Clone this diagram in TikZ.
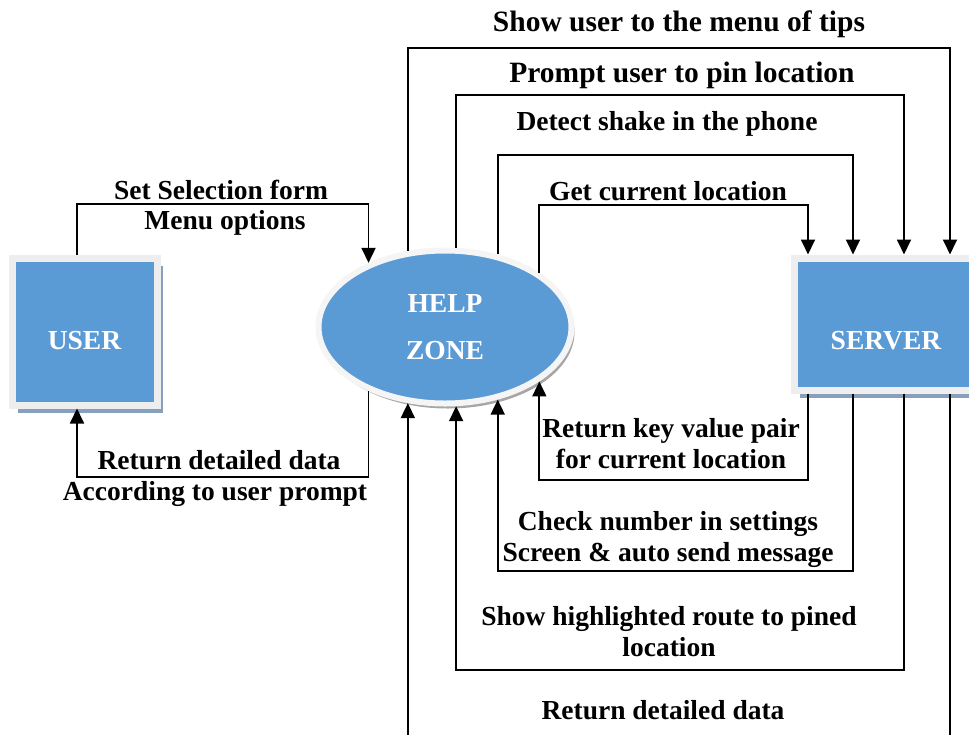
\documentclass[tikz,border=0pt]{standalone}
\usepackage{fontspec}
\setmainfont{Liberation Serif}
\usepackage{tikz}
\usetikzlibrary{arrows.meta,shapes.geometric,shadows}

\definecolor{boxblue}{RGB}{91,155,213}
\definecolor{rimgray}{RGB}{238,238,238}
\definecolor{shadeblue}{RGB}{135,160,190}

\begin{document}
\begin{tikzpicture}[x=1pt,y=-1pt,>={Triangle[length=15pt,width=14pt]},line width=1.8pt,
    every node/.style={font=\fontsize{27.5}{31}\selectfont\bfseries}]

    \tikzstyle{box}=[rectangle,fill=boxblue,draw=rimgray,line width=7pt,text=white,
      drop shadow={shadow xshift=5.5pt,shadow yshift=-8pt,fill=shadeblue,opacity=1}]
    \tikzstyle{zone}=[ellipse,fill=boxblue,draw=rimgray!60!white,line width=6pt,text=white,align=center,
      drop shadow={shadow xshift=3pt,shadow yshift=-5pt,fill=black!35,opacity=1}]
    \tikzstyle{msg}=[align=center,inner sep=0pt]
    \tikzstyle{big}=[font=\fontsize{29.5}{33}\selectfont\bfseries]

    \useasboundingbox (0,0) rectangle (969,734);
    \clip (0,0) rectangle (969,734);

    \node[box,minimum width=145pt,minimum height=147pt,text height=35pt,text depth=0pt] (user) at (84.5,331.5) {USER};
    \node[zone,minimum width=253pt,minimum height=153pt] (help) at (445,327) {HELP\\[16pt]ZONE};
    \node[box,minimum width=183pt,minimum height=132pt,text height=50pt,text depth=0pt] (server) at (886,324) {SERVER};

    % user <-> help zone
    \draw[->] (77,0 |- user.north) |- (help.140.8 |- 0,204) -- (help.140.8);
    \draw[->] (help.-140.8) |- (77,477) -- (77,0 |- user.south);
    \node[msg] (sel) at (221,190) {Set Selection form};
    \node[msg] (menu) at (225,223) {Menu options};
    \node[msg] (ret) at (219,460) {Return detailed data};
    \node[msg] (acc) at (215,494) {According to user prompt};

    % help zone -> server
    \foreach \a/\x/\y in {116.2/950/48,82/904/95,54.7/853/155,30.8/808/205}
      \draw[->] (help.\a) |- (\x,\y) -- (\x,0 |- server.north);
    \node[msg,big] (tips) at (679,24) {Show user to the menu of tips};
    \node[msg,big] (pin) at (682,75) {Prompt user to pin location};
    \node[msg] (shake) at (667,124) {Detect shake in the phone};
    \node[msg] (loc) at (668,191) {Get current location};

    % server -> help zone
    \foreach \a/\x/\y in {-116.2/950/760,-82/904/670,-54.7/853/571,-30.8/808/480}
      \draw[->] (\x,0 |- server.south) -- (\x,\y) -| (help.\a);
    \node[msg] (pair) at (671,444) {Return key value pair\\for current location};
    \node[msg] (check) at (668,539) {Check number in settings\\Screen \& auto send message};
    \node[msg] (route) at (669,632) {Show highlighted route to pined\\location};
    \node[msg] (data) at (663,710) {Return detailed data};
\end{tikzpicture}
\end{document}
